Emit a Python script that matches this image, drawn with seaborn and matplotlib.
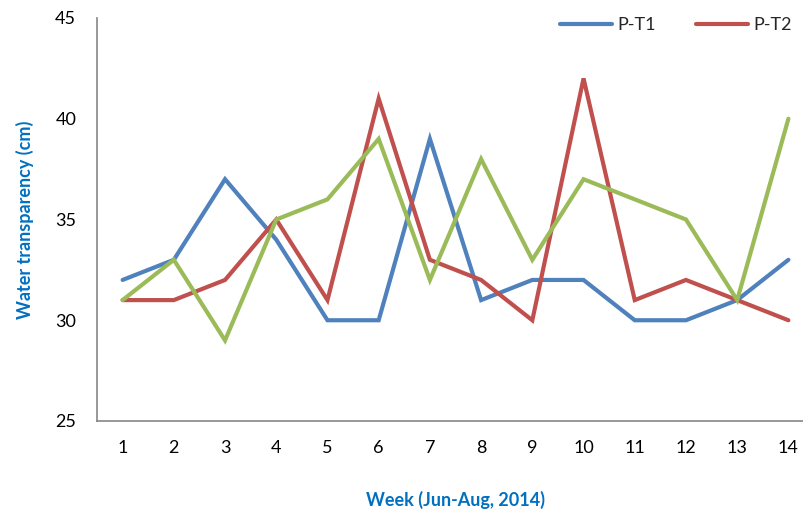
import matplotlib
matplotlib.use("Agg")
import matplotlib.pyplot as plt
import seaborn as sns
import pandas as pd

weeks = list(range(1, 15))
pt1 = [32, 33, 37, 34, 30, 30, 39, 31, 32, 32, 30, 30, 31, 33]
pt2 = [31, 31, 32, 35, 31, 41, 33, 32, 30, 42, 31, 32, 31, 30]
pt3 = [31, 33, 29, 35, 36, 39, 32, 38, 33, 37, 36, 35, 31, 40]
series_names = ["P-T1", "P-T2", "P-T3"]
colors = ["#4F81BD", "#C0504D", "#9BBB59"]
yticks = [25, 30, 35, 40, 45]

df = pd.DataFrame({
    "week": weeks * 3,
    "value": pt1 + pt2 + pt3,
    "series": [series_names[0]] * 14 + [series_names[1]] * 14 + [series_names[2]] * 14,
})

sns.set_style("white")
plt.rcParams['font.family'] = ['Lato', 'DejaVu Sans']

W, H = 804, 519
fig = plt.figure(figsize=(W / 100, H / 100), dpi=100)
left, right, top, bottom = 97, 814, 18, 421
ax = fig.add_axes([left / W, 1 - bottom / H, (right - left) / W, (bottom - top) / H])

sns.lineplot(data=df, x="week", y="value", hue="series", palette=colors,
             linewidth=3, ax=ax, legend=True)
for ln in ax.lines:
    ln.set_solid_capstyle("round")
    ln.set_solid_joinstyle("miter")

ax.set_xlim(0.5, 14.5)
ax.set_ylim(25, 45)
ax.set_xticks(weeks)
ax.set_yticks(yticks)
ax.tick_params(axis="x", length=0, pad=14, labelsize=13, colors="black")
ax.tick_params(axis="y", length=7, width=1, color="#868686", pad=8, labelsize=13, labelcolor="black")
for s in ["top", "right"]:
    ax.spines[s].set_visible(False)
for s in ["left", "bottom"]:
    ax.spines[s].set_color("#868686")
    ax.spines[s].set_linewidth(1.2)

ax.set_xlabel("Week (Jun-Aug, 2014)", fontsize=13, fontweight="bold", color="#0070C0", labelpad=25)
ax.set_ylabel("Water transparency (cm)", fontsize=13, fontweight="bold", color="#0070C0", labelpad=15)

handles, labels = ax.get_legend_handles_labels()
ax.legend(handles[:2], labels[:2], loc="upper left", bbox_to_anchor=(560 / W, 1 - 17 / H),
          bbox_transform=fig.transFigure, ncol=2, frameon=False, fontsize=13,
          handlelength=2.9, columnspacing=2.2, handletextpad=0.3, borderpad=0, borderaxespad=0)

fig.savefig("out.png", dpi=100)
